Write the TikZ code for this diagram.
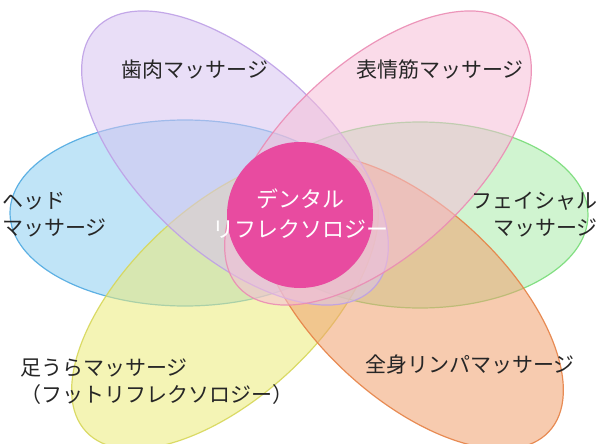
\documentclass[tikz,border=0pt]{standalone}
\usepackage{fontspec}
\setmainfont{Noto Sans CJK JP}
\definecolor{cb}{RGB}{140,205,240}\definecolor{cbd}{RGB}{80,170,225}
\definecolor{cg}{RGB}{170,235,170}\definecolor{cgd}{RGB}{120,220,120}
\definecolor{cy}{RGB}{235,235,120}\definecolor{cyd}{RGB}{215,215,90}
\definecolor{co}{RGB}{240,160,110}\definecolor{cod}{RGB}{230,130,70}
\definecolor{cv}{RGB}{215,195,240}\definecolor{cvd}{RGB}{190,160,230}
\definecolor{cp}{RGB}{245,190,215}\definecolor{cpd}{RGB}{235,140,180}
\definecolor{cm}{RGB}{232,75,160}
\begin{document}
\begin{tikzpicture}[x=1pt,y=-1pt,
  pet/.style={line width=1.2pt,fill opacity=0.55,draw opacity=0.9},
  lab/.style={font=\fontsize{21}{27}\selectfont,text=black!85,inner sep=0pt}]
\useasboundingbox (0,0) rectangle (600,444);
\path[pet,fill=cb,draw=cbd] (185,213) ellipse [x radius=175,y radius=93];
\path[pet,fill=cg,draw=cgd] (420,215) ellipse [x radius=168,y radius=93];
\path[pet,fill=cy,draw=cyd] (225,302) ellipse [x radius=190,y radius=95,rotate=43];
\path[pet,fill=co,draw=cod] (410,302) ellipse [x radius=190,y radius=95,rotate=-43];
\path[pet,fill=cv,draw=cvd] (235,158) ellipse [x radius=190,y radius=95,rotate=-43];
\path[pet,fill=cp,draw=cpd] (378,158) ellipse [x radius=190,y radius=95,rotate=43];
\node[circle,fill=cm,minimum size=146pt,inner sep=0pt] (c) at (300,215) {};
\node[lab,text=white,align=center,font=\fontsize{22}{30}\selectfont] (ct) at (300,214) {デンタル\\リフレクソロジー};
\node[lab] (a) at (195,70) {歯肉マッサージ};
\node[lab] (b) at (440,70) {表情筋マッサージ};
\node[lab,anchor=west,align=left] (h) at (2,215) {ヘッド\\マッサージ};
\node[lab,anchor=east,align=right] (f) at (598,215) {フェイシャル\\マッサージ};
\node[lab,anchor=west,align=left] (y) at (20,382) {足うらマッサージ\\（フットリフレクソロジー）};
\node[lab] (o) at (470,364) {全身リンパマッサージ};
\end{tikzpicture}
\end{document}
